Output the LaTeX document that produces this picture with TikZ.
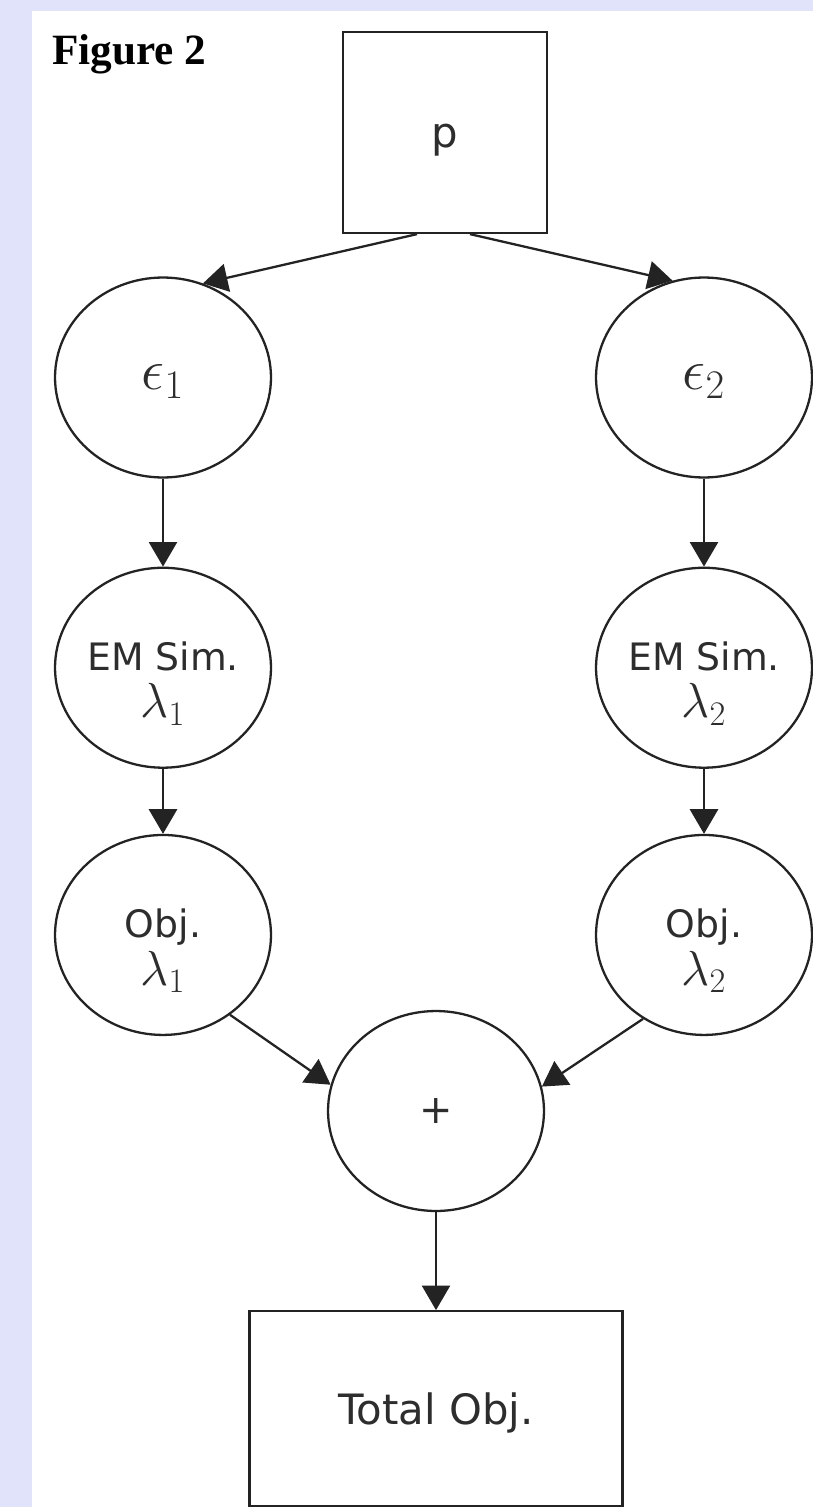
\documentclass[tikz,border=0pt]{standalone}
\usepackage{fix-cm}
\usepackage{fontspec}
\setsansfont{DejaVu Sans}
\newfontfamily\captionfont{Liberation Serif}
\usetikzlibrary{shapes.geometric, positioning, arrows.meta}
\definecolor{pagebg}{RGB}{225,227,251}
\definecolor{edge}{RGB}{35,35,35}
\definecolor{ink}{RGB}{45,45,45}
\tikzset{
  box/.style={rectangle, draw=edge, line width=1.3pt, text=ink, text height=22.6pt, text depth=5pt, font=\sffamily\fontsize{23.8}{26}\selectfont},
  blob/.style={ellipse, draw=edge, line width=1.3pt, text=ink, minimum width=4.32cm, minimum height=4cm, inner sep=0pt},
  txt/.style={align=center, yshift=-9pt, text=ink, font=\sffamily\fontsize{21.5}{24}\selectfont},
  arrow/.style={line width=1.3pt, draw=edge, -{Triangle[length=14pt, width=16pt]}}
}

\begin{document}
\begin{tikzpicture}[x=0.02cm, y=-0.02cm, node distance=1.3cm]
  % page frame
  \fill[pagebg] (0,0) rectangle (813,1507);
  \fill[white] (32,11) rectangle (813,1507);
  \useasboundingbox (0,0) rectangle (813,1507);

  \node (fig) [anchor=base west, inner sep=0pt, font=\captionfont\bfseries\fontsize{24.6}{28}\selectfont] at (52,65) {Figure 2};

  \node (p) [box, minimum width=4.08cm, minimum height=4.02cm] at (445,132.5) {p};
  \node (eps1) [blob, text height=19pt, text depth=5pt, font=\fontsize{33}{36}\selectfont] at (163,377.5) {$\epsilon_1$};
  \node (eps2) [blob, text height=19pt, text depth=5pt, font=\fontsize{33}{36}\selectfont] at (704,377.5) {$\epsilon_2$};
  \node (em1) [blob, below=1.76cm of eps1, label={[txt]center:{EM Sim.\\[3pt]{\fontsize{28}{30}\selectfont$\lambda_1$}}}] {};
  \node (em2) [blob, below=1.76cm of eps2, label={[txt]center:{EM Sim.\\[3pt]{\fontsize{28}{30}\selectfont$\lambda_2$}}}] {};
  \node (obj1) [blob, below=of em1, label={[txt]center:{Obj.\\[3pt]{\fontsize{28}{30}\selectfont$\lambda_1$}}}] {};
  \node (obj2) [blob, below=of em2, label={[txt]center:{Obj.\\[3pt]{\fontsize{28}{30}\selectfont$\lambda_2$}}}] {};
  \node (plus) [blob, font=\sffamily\fontsize{22.7}{24}\selectfont] at (436,1111) {+};
  \node (total) [box, minimum width=7.46cm, minimum height=3.9cm, below=1.96cm of plus] {Total Obj.};

  \draw [arrow] ([xshift=-0.56cm]p.south) -- (eps1.67);
  \draw [arrow] ([xshift=0.5cm]p.south) -- (eps2.108);
  \draw [arrow] (eps1) -- (em1);
  \draw [arrow] (em1) -- (obj1);
  \draw [arrow] (eps2) -- (em2);
  \draw [arrow] (em2) -- (obj2);
  \draw [arrow] (obj1.-50) -- (plus.166);
  \draw [arrow] (obj2.-126) -- (plus.13);
  \draw [arrow] (plus) -- (total);
\end{tikzpicture}
\end{document}
